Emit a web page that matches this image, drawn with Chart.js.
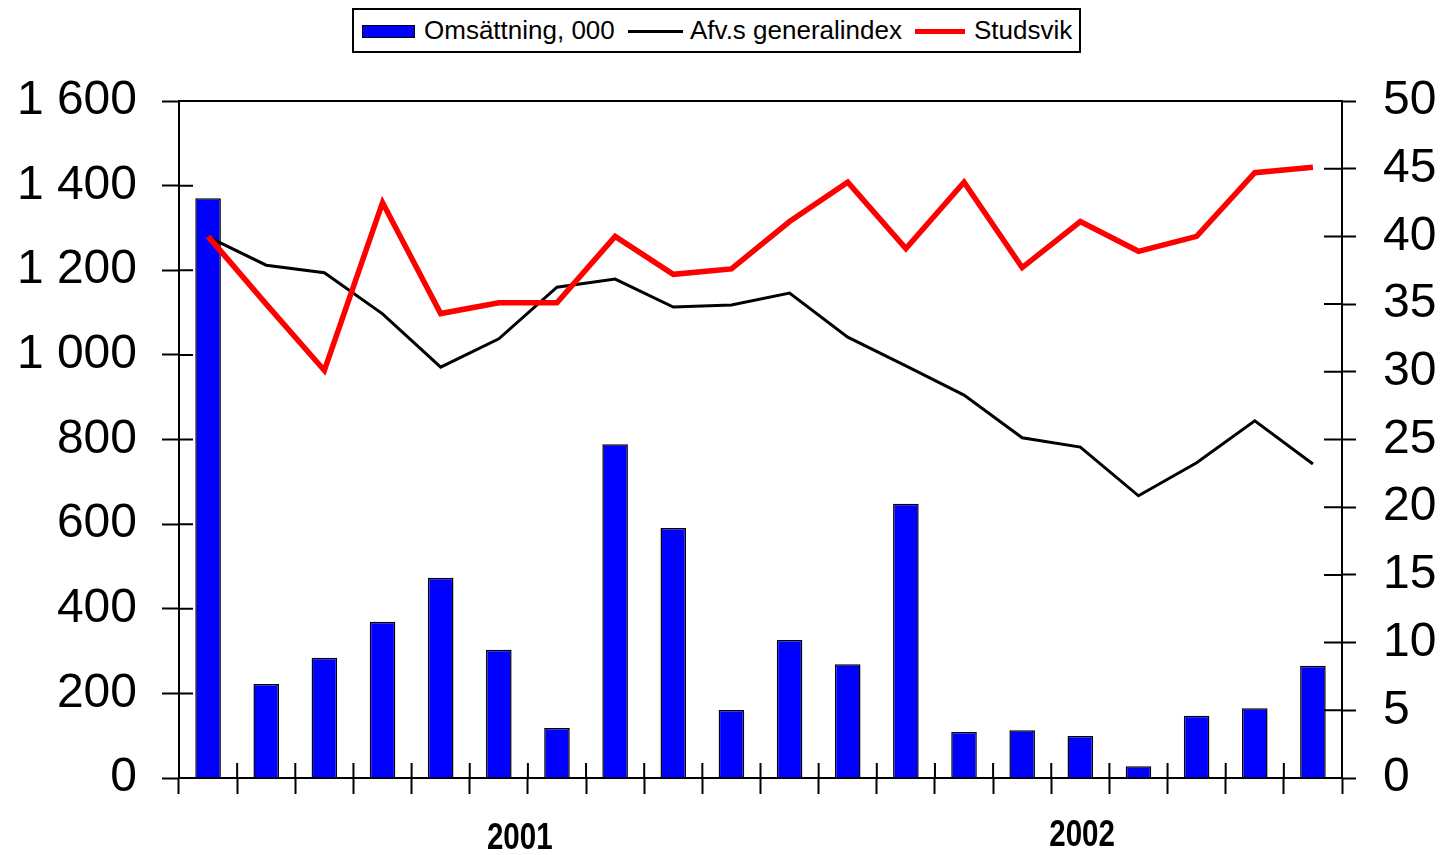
<!DOCTYPE html>
<html>
<head>
<meta charset="utf-8">
<script src="https://cdn.jsdelivr.net/npm/chart.js@4"></script>
<style>
  body { margin: 0; background: #fff; }
  #wrap { position: relative; width: 1442px; height: 855px; }
  #legend {
    position: absolute; left: 352px; top: 8px; width: 729px; height: 45px;
    box-sizing: border-box; border: 2px solid #000; background: #fff;
    font-family: 'Liberation Sans', Arial, sans-serif; font-size: 26px; color: #000;
  }
  #legend span { position: absolute; }
  #legend .txt { top: 5px; line-height: 30px; white-space: nowrap; }
  #legend .bar { top: 15px; width: 51px; height: 11px; background: #0000ff; border: 1px solid #000; }
  #legend .l1 { top: 20px; width: 55px; height: 3px; background: #000; }
  #legend .l2 { top: 19px; width: 50px; height: 5px; background: #ff0000; }
</style>
</head>
<body>
<div id="wrap">
  <canvas id="myChart"></canvas>
  <div id="legend"></div>
</div>
<script>
(() => {
  'use strict';

  // Data
  const categories = ['1','2','3','4','5','6','7','8','9','10','11','12','13','14','15','16','17','18','19','20'];
  const omsattning = [1370, 222, 284, 369, 473, 303, 118, 789, 591, 161, 326, 269, 648, 109, 113, 99, 28, 147, 165, 265];
  const generalindex = [1279, 1212, 1194, 1097, 971, 1038, 1160, 1179, 1113, 1118, 1146, 1042, 974, 905, 804, 782, 667, 745, 844, 742];
  const studsvik = [40.0, 35.0, 30.1, 42.5, 34.3, 35.1, 35.1, 40.0, 37.2, 37.6, 41.1, 44.0, 39.1, 44.0, 37.7, 41.1, 38.9, 40.0, 44.7, 45.1];
  const yearLabels = ['2001', '2002'];
  const yearCenters = [5.36, 15.03]; // position on the category scale (index)
  const seriesNames = ['Omsättning, 000', 'Afv.s generalindex', 'Studsvik'];

  const FONT = "'Liberation Sans', Arial, sans-serif";

  // HTML legend (swatch left, text left)
  const legend = document.getElementById('legend');
  const swClass = ['bar', 'l1', 'l2'];
  const swLeft = [8, 274, 561];
  const txtLeft = [70, 336, 620];
  seriesNames.forEach((name, i) => {
    const sw = document.createElement('span');
    sw.className = swClass[i];
    sw.style.left = swLeft[i] + 'px';
    const t = document.createElement('span');
    t.className = 'txt';
    t.style.left = txtLeft[i] + 'px';
    t.textContent = name;
    legend.appendChild(sw);
    legend.appendChild(t);
  });

  // ticks that cross the axes + top frame + year labels
  const extras = {
    id: 'extras',
    afterDraw(chart) {
      const c = chart.ctx;
      const a = chart.chartArea;
      const x = chart.scales.x, y = chart.scales.y, y1 = chart.scales.y1;
      c.save();
      c.strokeStyle = '#000';
      c.lineWidth = 2;
      c.beginPath();
      c.moveTo(a.left, a.top);
      c.lineTo(a.right, a.top);
      y.ticks.forEach(t => {
        const p = y.getPixelForValue(t.value);
        c.moveTo(a.left, p);
        c.lineTo(a.left + 14, p);
      });
      y1.ticks.forEach(t => {
        const p = y1.getPixelForValue(t.value);
        c.moveTo(a.right, p);
        c.lineTo(a.right - 18, p);
      });
      for (let i = 0; i <= categories.length; i++) {
        const p = x.getPixelForValue(i - 0.5);
        c.moveTo(p, a.bottom);
        c.lineTo(p, a.bottom - 15);
      }
      c.stroke();

      c.fillStyle = '#000';
      c.font = 'bold 36px ' + FONT;
      c.textAlign = 'center';
      c.textBaseline = 'middle';
      yearLabels.forEach((lab, i) => {
        const px = x.getPixelForValue(yearCenters[i]);
        c.save();
        c.translate(px, a.bottom + 61 - i * 3);
        c.scale(0.82, 1);
        c.fillText(lab, 0, 0);
        c.restore();
      });
      c.restore();
    }
  };

  const fmt = v => String(v).replace(/\B(?=(\d{3})+(?!\d))/g, ' ');

  new Chart(document.getElementById('myChart'), {
    data: {
      labels: categories,
      datasets: [
        {
          type: 'line',
          label: seriesNames[2],
          data: studsvik,
          yAxisID: 'y1',
          borderColor: '#ff0000',
          borderWidth: 5.5,
          borderJoinStyle: 'miter',
          pointRadius: 0,
          tension: 0,
          fill: false,
          order: 0
        },
        {
          type: 'line',
          label: seriesNames[1],
          data: generalindex,
          yAxisID: 'y',
          borderColor: '#000000',
          borderWidth: 3,
          borderJoinStyle: 'miter',
          pointRadius: 0,
          tension: 0,
          fill: false,
          order: 1
        },
        {
          type: 'bar',
          label: seriesNames[0],
          data: omsattning,
          yAxisID: 'y',
          backgroundColor: '#0000ff',
          borderColor: '#000000',
          borderWidth: 1.5,
          categoryPercentage: 1,
          barPercentage: 0.44,
          order: 2
        }
      ]
    },
    options: {
      responsive: true,
      maintainAspectRatio: false,
      animation: false,
      layout: { padding: { top: 101, left: 0, right: 0, bottom: 0 } },
      plugins: {
        legend: { display: false },
        tooltip: { enabled: false }
      },
      scales: {
        x: {
          type: 'category',
          offset: true,
          afterFit: s => { s.height = 77; },
          grid: {
            offset: true,
            drawOnChartArea: false,
            drawTicks: true,
            tickLength: 16,
            tickWidth: 2,
            tickColor: '#000'
          },
          border: { display: true, color: '#000', width: 2 },
          ticks: { display: false }
        },
        y: {
          position: 'left',
          min: 0,
          max: 1600,
          afterFit: s => { s.width = 179; },
          grid: {
            drawOnChartArea: false,
            tickLength: 17,
            tickWidth: 2,
            tickColor: '#000'
          },
          border: { display: true, color: '#000', width: 2 },
          ticks: {
            stepSize: 200,
            color: '#000',
            padding: 25,
            font: { family: FONT, size: 48 },
            callback: v => fmt(v)
          }
        },
        y1: {
          position: 'right',
          min: 0,
          max: 50,
          afterFit: s => { s.width = 100; },
          grid: {
            drawOnChartArea: false,
            tickLength: 14,
            tickWidth: 2,
            tickColor: '#000'
          },
          border: { display: true, color: '#000', width: 2 },
          ticks: {
            stepSize: 5,
            color: '#000',
            padding: 27,
            font: { family: FONT, size: 48 }
          }
        }
      }
    },
    plugins: [extras]
  });
})();
</script>
</body>
</html>
